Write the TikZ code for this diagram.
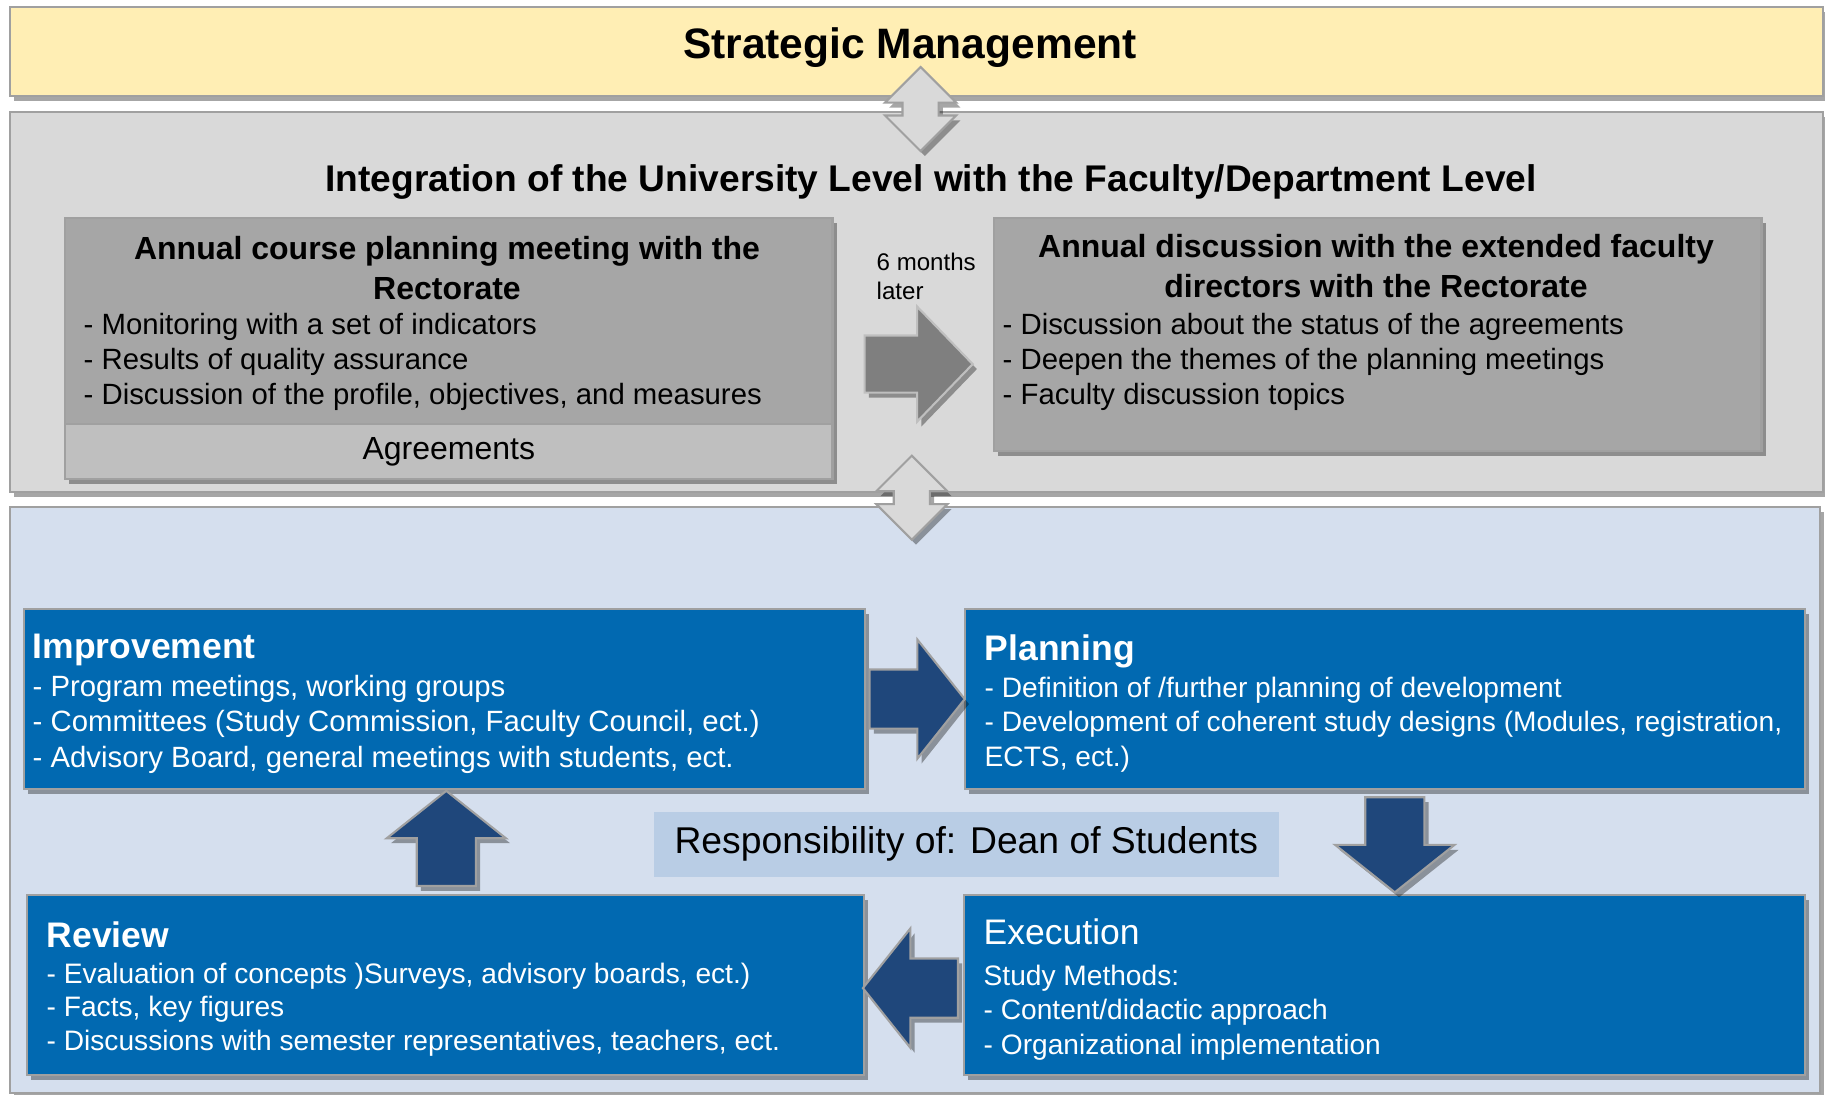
\documentclass[tikz,border=0pt]{standalone}
\usepackage{fontspec}
\setmainfont{Liberation Sans}
\usetikzlibrary{shapes.arrows,shadows,calc}
\definecolor{stratyellow}{HTML}{FFEEB4}
\definecolor{panelgray}{HTML}{D9D9D9}
\definecolor{boxgray}{HTML}{A6A6A6}
\definecolor{agreegray}{HTML}{BFBFBF}
\definecolor{cyclebg}{HTML}{D5DFEE}
\definecolor{stepblue}{HTML}{0169B1}
\definecolor{navy}{HTML}{1F477B}
\definecolor{respblue}{HTML}{B9CDE5}
\definecolor{rimgray}{HTML}{A0A0A0}
\definecolor{laterarrow}{HTML}{7F7F7F}
\tikzset{
  softshadow/.style={drop shadow={shadow xshift=1.2pt, shadow yshift=-1.4pt, opacity=0.35, fill=black}},
  panel/.style={draw=rimgray, line width=0.6pt, anchor=north west, inner sep=0pt, softshadow},
  graybox/.style={panel, fill=boxgray},
  bluebox/.style={panel, fill=stepblue},
  bigtitle/.style={anchor=base, inner sep=0pt, font=\fontsize{12.1}{14}\selectfont\bfseries},
  midtitle/.style={anchor=base, inner sep=0pt, font=\fontsize{10.56}{12}\selectfont\bfseries},
  boxtitle/.style={anchor=base, inner sep=0pt, align=center, font=\fontsize{9.1}{11.1}\selectfont\bfseries},
  itemlist/.style={anchor=base west, inner sep=0pt, align=left, font=\fontsize{8.34}{9.96}\selectfont},
  steptitle/.style={anchor=base west, inner sep=0pt, text=white, font=\fontsize{10.1}{12}\selectfont\bfseries},
  steplist/.style={itemlist, text=white},
  smalllist/.style={steplist, font=\fontsize{8.0}{9.7}\selectfont},
  cyclearrow/.style={single arrow, anchor=tail, fill=navy, draw=rimgray, line width=0.6pt, inner sep=0.285cm,
    minimum height=0.95cm, single arrow head extend=0.30cm, single arrow tip angle=103, softshadow},
  linkarrow/.style={double arrow, fill=panelgray, draw=rimgray, line width=0.6pt, inner sep=0.17cm,
    minimum height=0.84cm, double arrow head extend=0.175cm, double arrow tip angle=90, softshadow},
  timearrow/.style={single arrow, anchor=tail, fill=laterarrow, draw=agreegray, line width=0.6pt, inner sep=0.275cm,
    minimum height=1.08cm, single arrow head extend=0.29cm, single arrow tip angle=92, softshadow}
}
\begin{document}
\begin{tikzpicture}[x=0.01cm,y=-0.01cm]
\useasboundingbox (0,0) rectangle (1825,1094);
\node[panel, fill=stratyellow, minimum width=18.12cm, minimum height=0.89cm] (strat) at (9,6) {};
\node[panel, fill=panelgray, minimum width=18.12cm, minimum height=3.80cm] (integ) at (9,111) {};
\node[panel, fill=cyclebg, minimum width=18.09cm, minimum height=5.86cm] (cycle) at (9,506) {};
\node[bigtitle] (strattitle) at (910,59) {Strategic Management};
\node[midtitle] (integtitle) at (931,191.5) {Integration of the University Level with the Faculty/Department Level};
\node[graybox, minimum width=7.67cm, minimum height=2.06cm] (acp) at (64,217) {};
\node[graybox, fill=agreegray, minimum width=7.67cm, minimum height=0.55cm,
  font=\fontsize{9.1}{11}\selectfont] (agree) at (64,423) {Agreements};
\node[graybox, minimum width=7.67cm, minimum height=2.33cm] (ad) at (993,217) {};
\node[boxtitle] (acptitle) at (447,299) {Annual course planning meeting with the\\Rectorate};
\node[itemlist] (acplist) at (83,404.5) {- Monitoring with a set of indicators\\- Results of quality assurance\\- Discussion of the profile, objectives, and measures};
\node[boxtitle] (adtitle) at (1376,297) {Annual discussion with the extended faculty\\directors with the Rectorate};
\node[itemlist] (adlist) at (1002,404.5) {- Discussion about the status of the agreements\\- Deepen the themes of the planning meetings\\- Faculty discussion topics};
\node[itemlist, font=\fontsize{6.85}{7.97}\selectfont] (later) at (876,299) {6 months\\later};
\node[timearrow] (ahead) at ($(acp.east)+(30,43)$) {};
\node[linkarrow, shape border rotate=90] (up1) at ($(strat.south)!0.5!(integ.north)+(4,5)$) {};
\node[linkarrow, shape border rotate=90] (up2) at ($(integ.south)!0.5!(cycle.north)+(-4,-2)$) {};
\node[bluebox, minimum width=8.40cm, minimum height=1.80cm] (imp) at (23,608) {};
\node[bluebox, minimum width=8.39cm, minimum height=1.80cm] (plan) at (964,608) {};
\node[bluebox, minimum width=8.36cm, minimum height=1.80cm] (rev) at (26,894) {};
\node[bluebox, minimum width=8.40cm, minimum height=1.80cm] (exe) at (963,894) {};
\node[anchor=north west, fill=respblue, inner sep=0pt, minimum width=6.25cm, minimum height=0.65cm,
  font=\fontsize{10.6}{12}\selectfont] (resp) at (653,811) {\raisebox{-0.6pt}{Responsibility of: Dean of Students}};
\node[steptitle] (imptitle) at (32,658) {Improvement};
\node[steplist] (implist) at (32,767) {- Program meetings, working groups\\- Committees (Study Commission, Faculty Council, ect.)\\- Advisory Board, general meetings with students, ect.};
\node[steptitle] (plantitle) at (984,660) {Planning};
\node[smalllist] (planlist) at (984,766) {- Definition of /further planning of development\\- Development of coherent study designs (Modules, registration,\\ECTS, ect.)};
\node[steptitle] (revtitle) at (46,947) {Review};
\node[smalllist, font=\fontsize{8.0}{9.5}\selectfont] (revlist) at (46,1050) {- Evaluation of concepts )Surveys, advisory boards, ect.)\\- Facts, key figures\\- Discussions with semester representatives, teachers, ect.};
\node[steptitle, font=\fontsize{10.1}{12}\selectfont] (exetitle) at (983,944) {Execution};
\node[smalllist, font=\fontsize{8.0}{9.76}\selectfont] (exelist) at (983,1054) {Study Methods:\\- Content/didactic approach\\- Organizational implementation};
\node[cyclearrow] (toplan) at ($(imp.east)+(3,0)$) {};
\node[cyclearrow, shape border rotate=270] (toexe) at ($(plan.south)+(10,6)$) {};
\node[cyclearrow, shape border rotate=180] (torev) at ($(exe.west)+(-4,3)$) {};
\node[cyclearrow, shape border rotate=90] (toimp) at ($(rev.north)+(1,-7)$) {};
\end{tikzpicture}
\end{document}
